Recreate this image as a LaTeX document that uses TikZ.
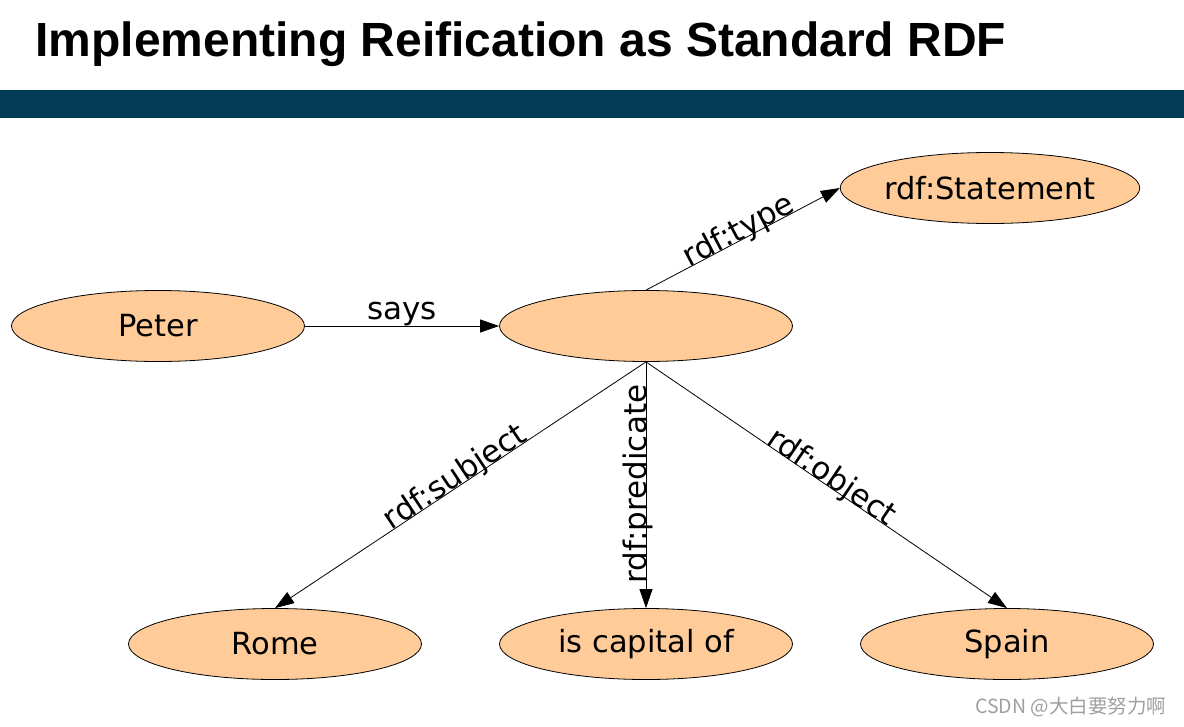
\documentclass[tikz,border=0pt]{standalone}
\usepackage{fontspec}
\setmainfont{DejaVu Sans}
\newfontfamily\titlefont{Liberation Sans}
\newfontfamily\cjkfont{Noto Sans CJK SC}
\usetikzlibrary{arrows.meta, positioning, shapes.geometric}
\definecolor{nodefill}{HTML}{FFCC99}
\definecolor{barblue}{HTML}{033A55}

\begin{document}
\begin{tikzpicture}[->, >={Triangle[length=19pt,width=13pt]}, node distance=318pt and 371pt, on grid, line width=0.8pt]
      \tikzstyle{res}=[ellipse,draw=black,fill=nodefill,minimum width=293pt,minimum height=71pt,inner sep=0pt,font=\fontsize{30.5}{36}\selectfont]
      \tikzstyle{lbl}=[sloped,anchor=base,inner sep=0pt,font=\fontsize{31}{36}\selectfont]
      \useasboundingbox (0,0) rectangle (1184pt,-726pt);
      \fill[barblue] (0,-90pt) rectangle (1184pt,-118pt);
      \node[anchor=base west,inner sep=0pt,font=\titlefont\bfseries\fontsize{48}{58}\selectfont] (title) at (35pt,-56pt) {Implementing Reification as Standard RDF};
      \node[res] (S) at (646pt,-326pt) {};
      \node[res] (P) [left = 488pt of S] {Peter};
      \node[res] (T) [above right = 138pt and 344pt of S] {rdf:Statement};
      \node[res] (R) [below left = of S] {Rome};
      \node[res] (C) [below = of S] {is capital of};
      \node[res] (E) [below right = 318pt and 361pt of S] {Spain};
      \path (P) edge node[above,inner sep=0pt,font=\fontsize{31}{36}\selectfont] {says} (S);
      \path (S.north) edge node[lbl] {rdf:type} (T.west);
      \path (S.south) edge node[lbl] {rdf:subject} (R.north);
      \path (S.south) edge node[anchor=base,rotate=90,inner sep=0pt,xshift=1pt,font=\fontsize{31}{36}\selectfont] {rdf:predicate} (C.north);
      \path (S.south) edge node[lbl] {rdf:object} (E.north);
      \node[anchor=base east,text=gray!75,font=\cjkfont\fontsize{19.5}{22}\selectfont] (mark) at (1170pt,-713pt) {CSDN @大白要努力啊};
    \end{tikzpicture}
\end{document}
